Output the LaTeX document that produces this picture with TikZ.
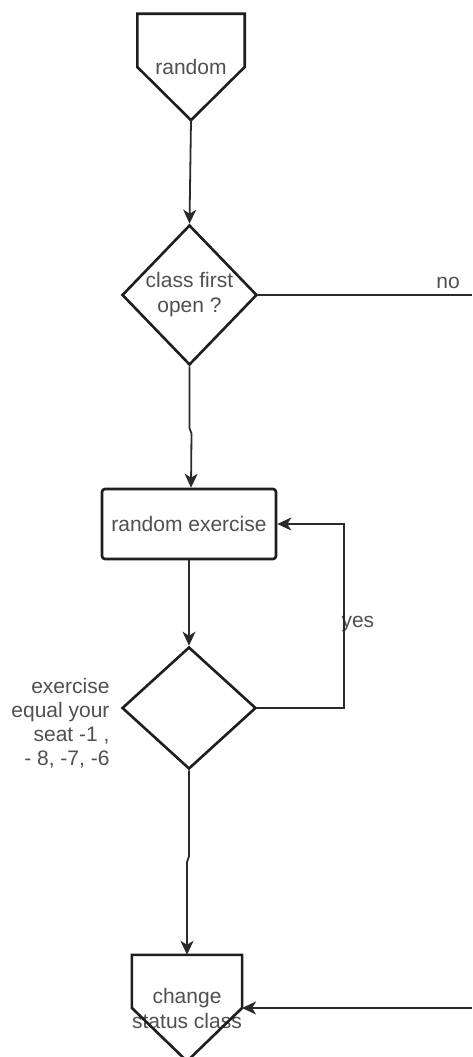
\documentclass[tikz,border=0pt]{standalone}
\usepackage{fontspec}
\setmainfont{Liberation Sans}
\usetikzlibrary{shapes.geometric,arrows.meta,calc}
\definecolor{ink}{HTML}{1E1E1E}
\definecolor{wire}{HTML}{2A2A2A}
\definecolor{label}{HTML}{505050}
\begin{document}
\begin{tikzpicture}[x=1pt,y=-1pt,
  every node/.style={font=\fontsize{21}{25}\selectfont, text=label},
  offpage/.style={minimum width=107pt, minimum height=106pt, inner sep=0pt, align=center},
  decision/.style={diamond, draw=ink, line width=2.6pt, inner sep=0pt, align=center},
  process/.style={rectangle, rounded corners=3pt, draw=ink, line width=2.6pt,
    minimum width=174pt, minimum height=70pt, inner sep=0pt},
  outline/.style={draw=ink, line width=2.6pt, line join=miter},
  link/.style={draw=wire, line width=1.8pt},
  flow/.style={link, -{Stealth[length=14pt,width=13pt,inset=4pt]}}]

% page
\useasboundingbox (0,0) rectangle (472,1057);
\fill[white] (0,0) rectangle (472,1057);

% off-page connector at the start
\node[offpage] (start) at (191,67) {random};
\draw[outline] (start.west) -- (start.north west) -- (start.north east)
  -- (start.east) -- (start.south) -- cycle;

% first decision
\node[decision, minimum width=135pt, minimum height=140pt] (first) at (189.5,295)
  {class first\\open ?};
\node (no) at (448,283) {no};
\coordinate (noEnd) at (472,295);

% process box
\node[process] (pick) at (189,524) {random exercise};

% second decision with its condition beside it
\node[decision, minimum width=134pt, minimum height=122pt] (seat) at (189,708) {};
\node[anchor=east, align=right, font=\fontsize{21}{24}\selectfont] (cond) at (113,723)
  {exercise\\equal your\\seat -1 ,\\- 8, -7, -6};
\node[anchor=west] (yes) at (338,624) {yes};

% off-page connector at the end
\node[offpage] (change) at (187,1008)
  {change\\status class};
\draw[outline] (change.west) -- (change.north west) -- (change.north east)
  -- (change.east) -- (change.south) -- cycle;
\coordinate (backIn) at (472,1008);

% connectors
\draw[flow] (start.south) -- (first.north);
\draw[link] (first.east) -- (noEnd);
\draw[flow] (first.south) -- ++(0,62) -- ++(2,5) -- ($(pick.north)+(2,0)$);
\draw[flow] (pick.south) -- (seat.north);
\draw[flow] (seat.east) -- ++(87,0) |- (pick.east);
\draw[flow] (seat.south) -- ++(0,86) -- ++(-2,6) -- (change.north);
\draw[flow] (backIn) -- (change.east);
\end{tikzpicture}
\end{document}
